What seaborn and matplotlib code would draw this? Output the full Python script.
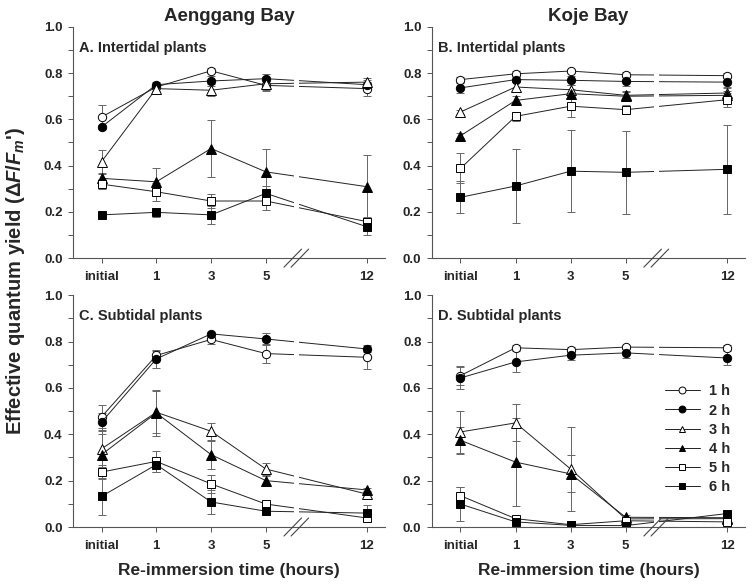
import matplotlib
matplotlib.use('Agg')
import matplotlib.pyplot as plt
import matplotlib.transforms as mtrans
from matplotlib.lines import Line2D
import seaborn as sns

# x categories (12 h sits after an axis break)
times = ['initial', '1', '3', '5', '12']
xpos = [0, 1, 2, 3, 4.84]
series = ['1 h', '2 h', '3 h', '4 h', '5 h', '6 h']

# A. Aenggang Bay, intertidal plants
mean_a = [[0.61, 0.74, 0.81, 0.747, 0.733],
          [0.567, 0.75, 0.766, 0.776, 0.75],
          [0.417, 0.733, 0.726, 0.754, 0.761],
          [0.345, 0.33, 0.474, 0.373, 0.309],
          [0.32, 0.287, 0.247, 0.247, 0.158],
          [0.187, 0.198, 0.187, 0.28, 0.136]]
sd_a = [[0.05, 0.01, 0.01, 0.02, 0.03],
        [0.01, 0.01, 0.02, 0.02, 0.02],
        [0.05, 0.01, 0.025, 0.03, 0.02],
        [0.02, 0.06, 0.125, 0.10, 0.135],
        [0.02, 0.04, 0.03, 0.04, 0.02],
        [0.01, 0.02, 0.04, 0.03, 0.035]]

# B. Koje Bay, intertidal plants
mean_b = [[0.772, 0.797, 0.809, 0.793, 0.789],
          [0.736, 0.772, 0.769, 0.764, 0.761],
          [0.632, 0.74, 0.728, 0.704, 0.714],
          [0.529, 0.682, 0.711, 0.70, 0.704],
          [0.388, 0.613, 0.657, 0.642, 0.685],
          [0.263, 0.312, 0.376, 0.371, 0.384]]
sd_b = [[0.01, 0.01, 0.01, 0.01, 0.01],
        [0.02, 0.01, 0.02, 0.02, 0.02],
        [0.01, 0.02, 0.02, 0.02, 0.02],
        [0.01, 0.02, 0.02, 0.02, 0.02],
        [0.065, 0.02, 0.045, 0.02, 0.03],
        [0.07, 0.16, 0.176, 0.18, 0.193]]

# C. Aenggang Bay, subtidal plants
mean_c = [[0.475, 0.74, 0.809, 0.748, 0.732],
          [0.452, 0.725, 0.833, 0.811, 0.768],
          [0.337, 0.495, 0.413, 0.25, 0.142],
          [0.312, 0.492, 0.312, 0.20, 0.16],
          [0.237, 0.283, 0.186, 0.099, 0.039],
          [0.132, 0.269, 0.108, 0.068, 0.06]]
sd_c = [[0.05, 0.02, 0.02, 0.04, 0.05],
        [0.04, 0.04, 0.01, 0.026, 0.015],
        [0.08, 0.09, 0.036, 0.026, 0.015],
        [0.09, 0.10, 0.06, 0.02, 0.01],
        [0.03, 0.045, 0.04, 0.01, 0.01],
        [0.08, 0.03, 0.05, 0.01, 0.036]]

# D. Koje Bay, subtidal plants
mean_d = [[0.653, 0.773, 0.765, 0.776, 0.773],
          [0.643, 0.712, 0.741, 0.751, 0.729],
          [0.41, 0.449, 0.25, 0.035, 0.036],
          [0.374, 0.28, 0.229, 0.042, 0.04],
          [0.135, 0.036, 0.01, 0.027, 0.022],
          [0.099, 0.022, 0.007, 0.006, 0.058]]
sd_d = [[0.04, 0.01, 0.01, 0.01, 0.01],
        [0.047, 0.045, 0.02, 0.02, 0.03],
        [0.09, 0.08, 0.18, 0.01, 0.01],
        [0.057, 0.19, 0.08, 0.01, 0.01],
        [0.037, 0.01, 0.01, 0.01, 0.01],
        [0.075, 0.01, 0.01, 0.01, 0.01]]

markers = ['o', 'o', '^', '^', 's', 's']
faces = ['white', 'black', 'white', 'black', 'white', 'black']
msizes = [6, 6, 6.5, 6.5, 5.5, 5.5]

sns.set_style('ticks')
plt.rcParams['font.family'] = ['Liberation Sans', 'DejaVu Sans']
plt.rcParams['font.weight'] = 'bold'
plt.rcParams['mathtext.fontset'] = 'custom'
plt.rcParams['mathtext.it'] = 'Liberation Sans:italic:bold'
plt.rcParams['mathtext.rm'] = 'Liberation Sans:bold'
plt.rcParams['mathtext.bf'] = 'Liberation Sans:bold'

axcol = '#555555'


def draw_panel(ax, means, sds, label):
    for i in range(len(series)):
        ax.errorbar(xpos, means[i], yerr=sds[i], fmt='none', ecolor='#666666',
                    elinewidth=0.7, capsize=2.6, capthick=0.7, zorder=1.5)
        sns.lineplot(x=xpos, y=means[i], ax=ax, color='#222222', linewidth=0.7,
                     marker=markers[i], markersize=msizes[i],
                     markerfacecolor=faces[i], markeredgecolor='black',
                     markeredgewidth=0.7, estimator=None, legend=False, zorder=2)
    # gap in the lines at the axis break
    ax.axvspan(3.51, 3.6, ymin=0.006, ymax=1, color='white', lw=0, zorder=2.2)
    trans = mtrans.blended_transform_factory(ax.transData, ax.transAxes)
    for x0, x1 in [(3.33, 3.65), (3.46, 3.78)]:
        ax.plot([x0, x1], [-0.039, 0.039], transform=trans, color='#444444',
                lw=0.8, clip_on=False, zorder=5)

    ax.set_xlim(-0.52, 5.17)
    ax.set_ylim(0, 1)
    ax.set_xticks(xpos, times)
    yt = [0, 0.2, 0.4, 0.6, 0.8, 1.0]
    ax.set_yticks(yt, [f'{v:.1f}' for v in yt])
    ax.set_yticks([0.1, 0.3, 0.5, 0.7, 0.9], minor=True)
    ax.tick_params(axis='both', which='both', direction='out', length=3.5,
                   width=0.7, color=axcol, labelsize=9.5, pad=4)
    ax.tick_params(axis='x', pad=6)
    sns.despine(ax=ax)
    for s in ['left', 'bottom']:
        ax.spines[s].set_color(axcol)
        ax.spines[s].set_linewidth(0.8)
    ax.text(0.02, 0.91, label, transform=ax.transAxes, fontsize=10.5,
            fontweight='bold', va='center')


fig = plt.figure(figsize=(7.55, 5.84), dpi=100)
ax_a = fig.add_axes([0.0967, 0.558, 0.413, 0.396])
ax_b = fig.add_axes([0.572, 0.558, 0.415, 0.396])
ax_c = fig.add_axes([0.0967, 0.0976, 0.413, 0.397])
ax_d = fig.add_axes([0.572, 0.0976, 0.415, 0.397])

draw_panel(ax_a, mean_a, sd_a, 'A. Intertidal plants')
draw_panel(ax_b, mean_b, sd_b, 'B. Intertidal plants')
draw_panel(ax_c, mean_c, sd_c, 'C. Subtidal plants')
draw_panel(ax_d, mean_d, sd_d, 'D. Subtidal plants')

ax_a.set_title('Aenggang Bay', fontsize=13.5, fontweight='bold', pad=4)
ax_b.set_title('Koje Bay', fontsize=13.5, fontweight='bold', pad=4)
for ax in [ax_c, ax_d]:
    ax.set_xlabel('Re-immersion time (hours)', fontsize=12.5, fontweight='bold', labelpad=8)

handles = [Line2D([0], [0], color='#222222', lw=0.7, marker=markers[i], markersize=5,
                  markerfacecolor=faces[i], markeredgecolor='black', markeredgewidth=0.7)
           for i in range(len(series))]
ax_d.legend(handles, series, loc='upper right', bbox_to_anchor=(0.97, 0.64), frameon=False,
            fontsize=10.5, handlelength=2.4, handletextpad=0.6, labelspacing=0.35,
            borderaxespad=0)

fig.text(0.02, 0.52, r"Effective quantum yield ($\mathit{\Delta F/F_m}$')", rotation=90,
         fontsize=14.5, fontweight='bold', ha='center', va='center')

fig.savefig('out.png', dpi=100)
